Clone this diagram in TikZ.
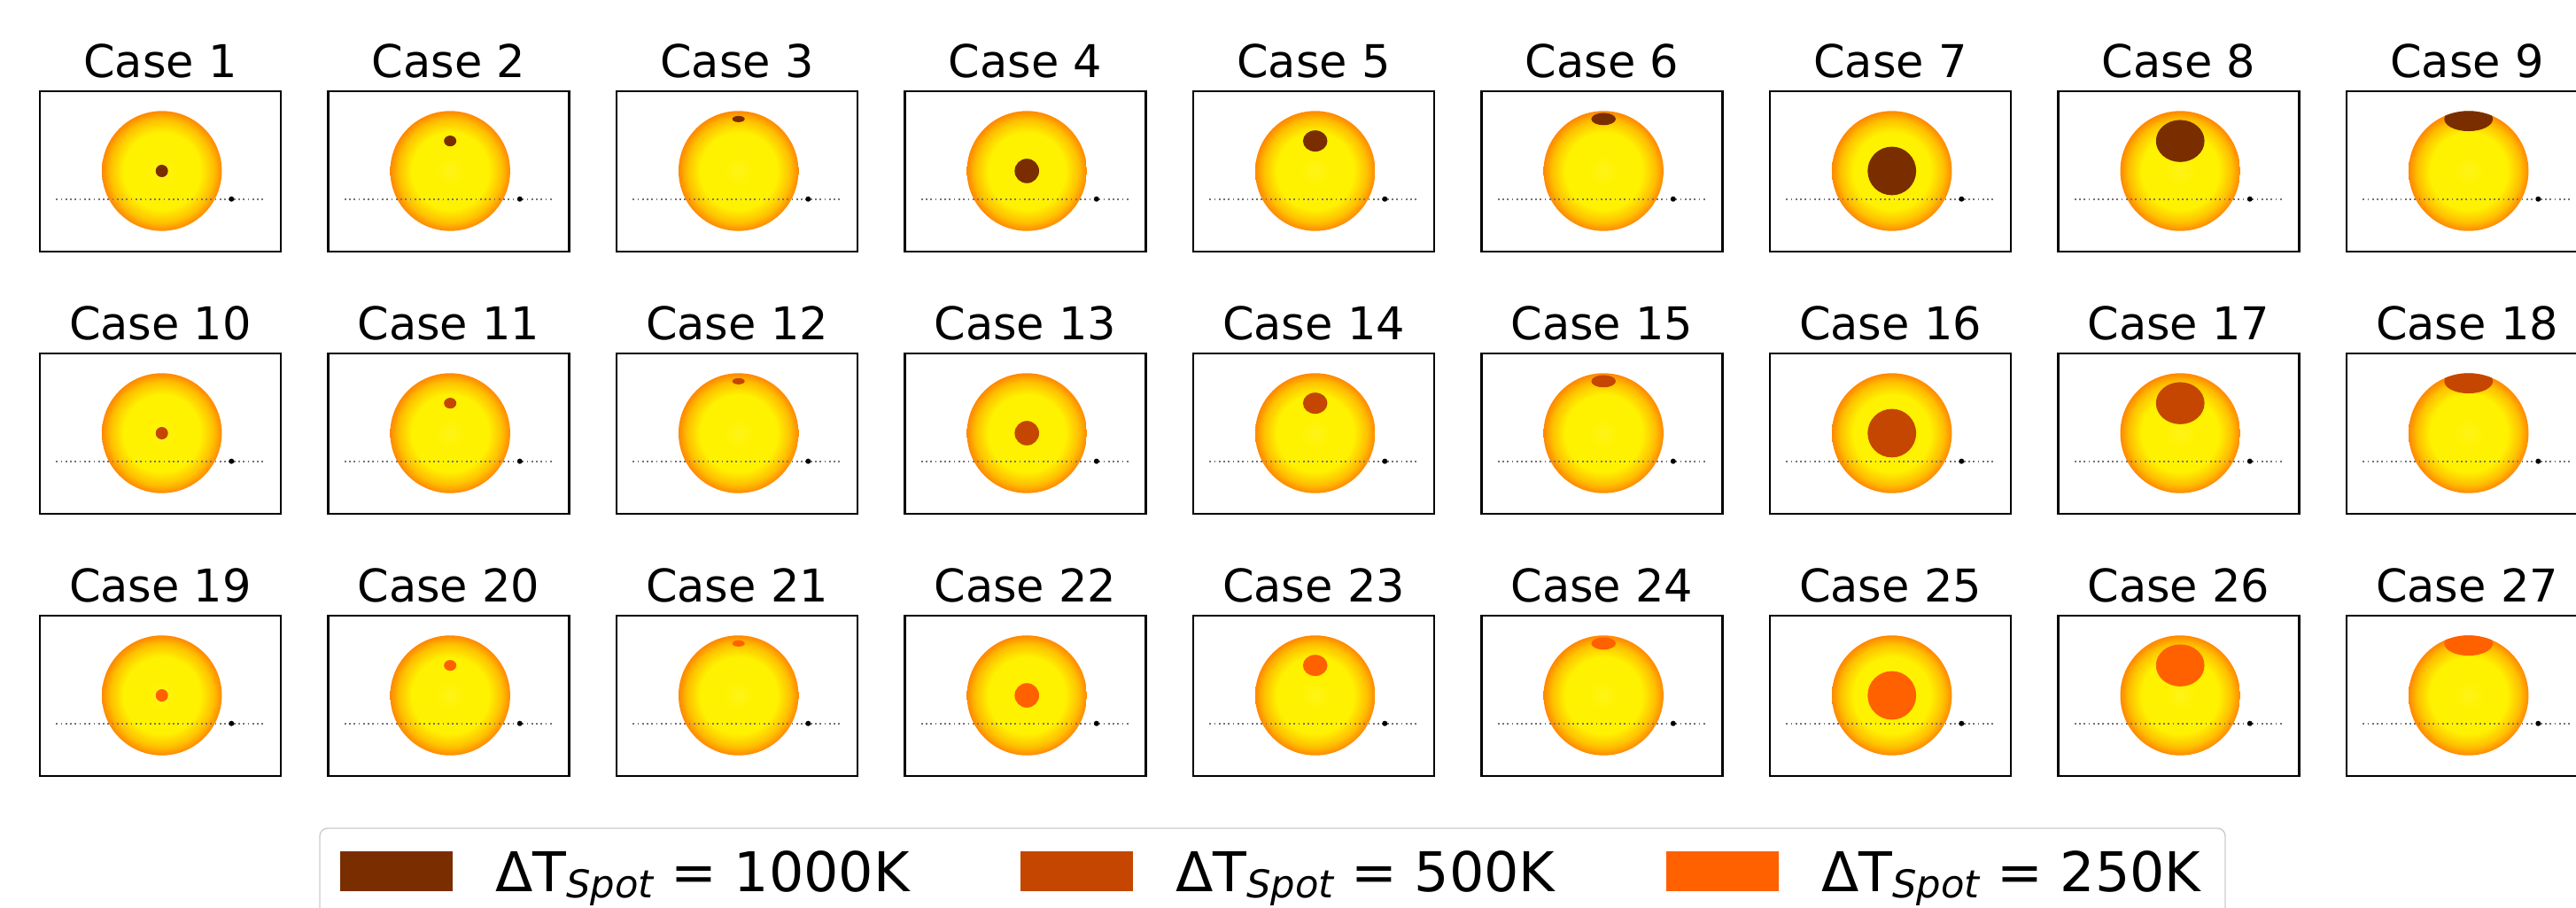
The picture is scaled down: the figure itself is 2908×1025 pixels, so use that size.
\documentclass[tikz,border=0pt]{standalone}
\usepackage{fontspec}
\setmainfont{DejaVu Sans}[ItalicFont={DejaVu Sans Oblique}]
\usepackage{tikz}
\usetikzlibrary{calc,positioning}

\definecolor{spotA}{HTML}{7A2E00}
\definecolor{spotB}{HTML}{C44600}
\definecolor{spotC}{HTML}{FF6000}
\definecolor{starcore}{HTML}{FFF200}
\definecolor{starmid}{HTML}{FFC000}
\definecolor{starlimb}{HTML}{FF8800}

\pgfdeclareradialshading{limb}{\pgfpointorigin}{color(0bp)=(starcore!90!white); color(6bp)=(starcore); color(16bp)=(starcore); color(21.5bp)=(starmid); color(25bp)=(starlimb); color(50bp)=(starlimb)}

\newcommand{\dtspot}[1]{ΔT\raisebox{-0.11em}{\fontsize{12.3}{14}\selectfont\itshape Spot} = #1}

\tikzset{
    panel/.style={draw=black, line width=0.6pt},
    casetitle/.style={anchor=base, inner sep=0, font=\fontsize{14.5}{17}\selectfont},
    transit/.style={black!55, densely dotted, line width=0.5pt},
    planet/.style={circle, fill=black, inner sep=0, minimum size=0.06cm},
    legpatch/.style={inner sep=0, minimum width=1.27cm, minimum height=0.45cm, anchor=south west},
    legtext/.style={inner sep=0, font=\fontsize{17.6}{21}\selectfont},
}

\begin{document}
\begin{tikzpicture}[x=0.01cm, y=0.01cm]
    \useasboundingbox (0,0) rectangle (2908,-1025);
    \clip (0,0) rectangle (2908,-1025);
    \foreach \r/\col in {0/spotA,1/spotB,2/spotC}
    \foreach \c in {0,...,8} {
        \pgfmathtruncatemacro\n{9*\r+\c+1}
        \pgfmathsetmacro\rs{{7,13.8,27.4}[int(\c/3)]}
        \pgfmathsetmacro\lat{{0,30,60}[mod(\c,3)]}
        \pgfmathsetmacro\ry{\rs*cos(\lat)}
        \pgfmathsetmacro\dy{67.7*sin(\lat)}
        \begin{scope}[shift={(45+325.5*\c,-103-296*\r)}]
            \draw[panel] (0,0) rectangle (272,-181);
            \node[casetitle] (t\n) at (136,15) {Case \n};
            \coordinate (s\n) at (137.7,-90);
            \shade[shading=limb] (s\n) circle (67.7);
            \begin{scope}
                \clip (s\n) circle (67.7);
                \fill[\col] ($(s\n)+(0,\dy)$) ellipse [x radius=\rs, y radius=\ry];
            \end{scope}
            \coordinate (a\n) at (18.3,-121.7);
            \coordinate (b\n) at (253.3,-121.7);
            \draw[transit] (a\n) -- (b\n);
            \node[planet] (p\n) at (216.3,-121.7) {};
        \end{scope}
    }
    \draw[gray!40, fill=white, line width=0.4pt, rounded corners=2.5pt] (361,-935) rectangle (2512,-1060);
    \node[legpatch, fill=spotA] (k1) at (383,-1007) {};
    \node[legpatch, fill=spotB] (k2) at (1151,-1007) {};
    \node[legpatch, fill=spotC] (k3) at (1880,-1007) {};
    \node[legtext, right=0.47cm of k1.south east, anchor=base west] (l1) {\dtspot{1000K}};
    \node[legtext, right=0.47cm of k2.south east, anchor=base west] (l2) {\dtspot{500K}};
    \node[legtext, right=0.47cm of k3.south east, anchor=base west] (l3) {\dtspot{250K}};
\end{tikzpicture}
\end{document}
